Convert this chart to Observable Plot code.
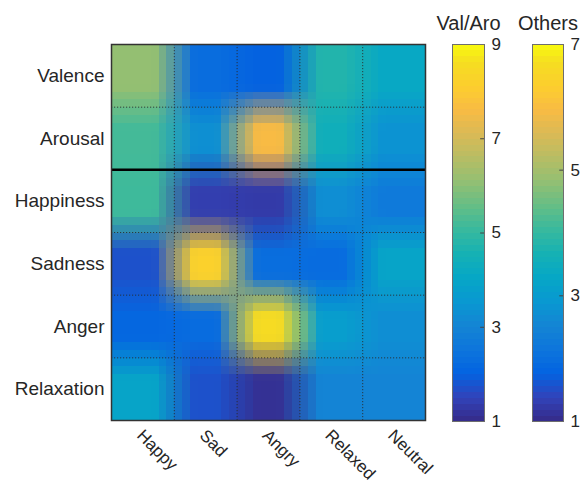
<!DOCTYPE html>
<html>
<head>
<meta charset="utf-8">
<script src="https://cdn.jsdelivr.net/npm/d3@7"></script>
<script src="https://cdn.jsdelivr.net/npm/@observablehq/plot@0.6"></script>
<style>
  body { margin: 0; background: #fff; }
  #chart { position: relative; width: 584px; height: 487px; background: #fff; }
  #chart svg { position: absolute; top: 0; }
</style>
</head>
<body>
<div id="chart"></div>
<script>
// ---- data ----
const rows = ["Valence", "Arousal", "Happiness", "Sadness", "Anger", "Relaxation"];
const cols = ["Happy", "Sad", "Angry", "Relaxed", "Neutral"];
// Val/Aro rows (scale 1–9)
const valence    = [6.1, 2.3, 2.0, 4.75, 4.1];
const arousal    = [5.2, 3.3, 7.6, 4.4, 3.4];
// Other rows (scale 1–7)
const happiness  = [4.1, 1.3, 1.25, 2.7, 2.25];
const sadness    = [1.55, 6.4, 2.0, 1.95, 3.2];
const anger      = [1.85, 1.95, 6.65, 3.05, 2.7];
const relaxation = [3.2, 1.55, 1.1, 2.5, 2.5];
const valAroDomain = [1, 9];
const othersDomain = [1, 7];
const valAroTicks = [1, 3, 5, 7, 9];
const othersTicks = [1, 3, 5, 7];

// parula colormap stops (position, colour)
const parulaPos = [0, 4, 8, 12, 16, 20, 24, 28, 32, 36, 40, 44, 48, 52, 56, 60, 63].map(i => i / 63);
const parula = ["#352a87", "#3243ba", "#0363e1", "#0d75dc", "#1485d4", "#0998d1", "#06a7c6", "#15b1b4",
                "#38b99e", "#65be86", "#92bf73", "#b7bd64", "#d9ba56", "#f8bb44", "#fcce2e", "#f5de21", "#f9fb0e"];

const font = "'Liberation Sans', Arial, Helvetica, sans-serif";
const ink = "#262626";

function colorOpts([lo, hi]) {
  return {type: "linear", domain: parulaPos.map(p => lo + (hi - lo) * p), range: parula, interpolate: "rgb", clamp: true};
}
const valAroScale = Plot.scale({color: colorOpts(valAroDomain)});
const othersScale = Plot.scale({color: colorOpts(othersDomain)});

const matrix = [
  {vals: valence, scale: valAroScale},
  {vals: arousal, scale: valAroScale},
  {vals: happiness, scale: othersScale},
  {vals: sadness, scale: othersScale},
  {vals: anger, scale: othersScale},
  {vals: relaxation, scale: othersScale}
];
const cellRGB = matrix.map(r => r.vals.map(v => d3.rgb(r.scale.apply(v))));

// smoothed (image-resize-like) sampling between cell colours
const W = 0.32;
const clamp = (v, a, b) => Math.max(a, Math.min(b, v));
const ramp = f => clamp((f - (0.5 - W)) / (2 * W), 0, 1);
function sample(x, y) {
  const fx = x - 0.5, fy = y - 0.5;
  const c0 = Math.floor(fx), r0 = Math.floor(fy);
  const tx = ramp(fx - c0), ty = ramp(fy - r0);
  const ca = clamp(c0, 0, cols.length - 1), cb = clamp(c0 + 1, 0, cols.length - 1);
  const ra = clamp(r0, 0, rows.length - 1), rb = clamp(r0 + 1, 0, rows.length - 1);
  const mix = k => {
    const top = cellRGB[ra][ca][k] * (1 - tx) + cellRGB[ra][cb][k] * tx;
    const bot = cellRGB[rb][ca][k] * (1 - tx) + cellRGB[rb][cb][k] * tx;
    return Math.round(top * (1 - ty) + bot * ty);
  };
  return `rgb(${mix("r")},${mix("g")},${mix("b")})`;
}

const chart = document.getElementById("chart");

// ---- main heat map ----
const main = Plot.plot({
  width: 440, height: 487,
  marginLeft: 111, marginRight: 15, marginTop: 44, marginBottom: 67,
  style: {fontFamily: font, color: ink, background: "transparent", overflow: "visible"},
  x: {domain: [0, cols.length], axis: null},
  y: {domain: [rows.length, 0]},
  color: {type: "identity"},
  marks: [
    Plot.raster({x1: 0, x2: cols.length, y1: 0, y2: rows.length,
      width: cols.length * 8, height: rows.length * 8,
      fill: sample, imageRendering: "pixelated"}),
    Plot.ruleX(d3.range(1, cols.length), {stroke: "#2a2a2a", strokeWidth: 1, strokeDasharray: "1.2,1.8", strokeOpacity: 0.85}),
    Plot.ruleY([1, 3, 4, 5], {stroke: "#2a2a2a", strokeWidth: 1, strokeDasharray: "1.2,1.8", strokeOpacity: 0.85}),
    Plot.ruleY([2], {stroke: "#000", strokeWidth: 2.5}),
    Plot.frame({stroke: "#333", strokeWidth: 1.5}),
    Plot.axisY(d3.range(rows.length).map(i => i + 0.5), {
      tickFormat: d => rows[Math.floor(d)], tickSize: 0, tickPadding: 7,
      fontSize: 19, label: null, fill: ink}),
    Plot.text(cols, {x: (d, i) => i + 0.5, frameAnchor: "bottom", text: d => d,
      rotate: 45, textAnchor: "start", dx: -7, dy: 16, fontSize: 17, fill: ink})
  ]
});
main.style.left = "0px";
chart.appendChild(main);

// ---- colour bars ----
function colorbar({left, width, marginLeft, marginRight, domain, ticks, title}) {
  const svg = Plot.plot({
    width, height: 487,
    marginLeft, marginRight, marginTop: 44, marginBottom: 66,
    style: {fontFamily: font, color: ink, background: "transparent", overflow: "visible"},
    x: {domain: [0, 1], axis: null},
    y: {domain},
    color: colorOpts(domain),
    marks: [
      Plot.raster({x1: 0, x2: 1, y1: domain[0], y2: domain[1], width: 1, height: 64,
        fill: (x, y) => y, imageRendering: "pixelated"}),
      Plot.frame({stroke: "#6e6e6e", strokeWidth: 1}),
      Plot.ruleY(ticks.slice(1, -1), {x1: 0.88, x2: 1, stroke: "#444", strokeWidth: 1}),
      Plot.axisY({anchor: "right", ticks, tickFormat: d3.format("d"), tickSize: 0, tickPadding: 7, fontSize: 17, label: null, fill: ink}),
      Plot.text([title], {frameAnchor: "top", dy: -29, fontSize: 20, fill: ink})
    ]
  });
  svg.style.left = left + "px";
  chart.appendChild(svg);
}
colorbar({left: 440, width: 80, marginLeft: 12, marginRight: 36, domain: valAroDomain, ticks: valAroTicks, title: "Val/Aro"});
colorbar({left: 520, width: 64, marginLeft: 12, marginRight: 21, domain: othersDomain, ticks: othersTicks, title: "Others"});
</script>
</body>
</html>
